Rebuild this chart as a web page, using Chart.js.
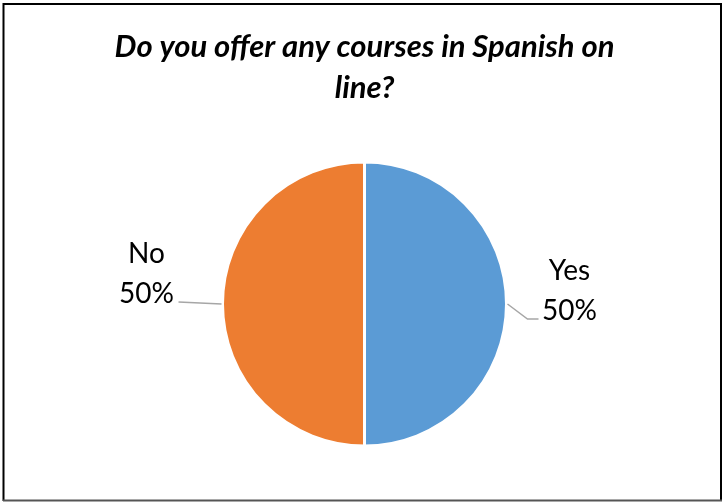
<!DOCTYPE html>
<html>
<head>
<meta charset="utf-8">
<script src="https://cdn.jsdelivr.net/npm/chart.js@4"></script>
<style>
  html, body { margin: 0; padding: 0; background: #fff; }
  #wrap { width: 724px; height: 502px; position: relative; }
</style>
</head>
<body>
<div id="wrap"><canvas id="c" width="724" height="502"></canvas></div>
<script>
const titleLines = ["Do you offer any courses in Spanish on", "line?"];
const categories = ["Yes", "No"];
const values = [50, 50];
const colors = ["#5B9BD5", "#ED7D31"];

const frame = {
  id: 'frame',
  afterDraw(chart) {
    const ctx = chart.ctx;
    ctx.save();
    ctx.strokeStyle = '#000';
    ctx.lineWidth = 2;
    ctx.beginPath();
    ctx.moveTo(3.5, 501);
    ctx.lineTo(3.5, 4);
    ctx.lineTo(721, 4);
    ctx.lineTo(721, 501);
    ctx.stroke();
    ctx.strokeStyle = '#555';
    ctx.beginPath();
    ctx.moveTo(3, 500.5);
    ctx.lineTo(722, 500.5);
    ctx.stroke();
    ctx.restore();
  }
};

const sliceLabels = {
  id: 'sliceLabels',
  afterDatasetsDraw(chart) {
    const ctx = chart.ctx;
    const meta = chart.getDatasetMeta(0);
    const total = values.reduce((a, b) => a + b, 0);
    ctx.save();
    ctx.font = '28px Lato';
    ctx.fillStyle = '#000';
    ctx.textAlign = 'center';
    ctx.textBaseline = 'alphabetic';
    ctx.strokeStyle = '#A6A6A6';
    ctx.lineWidth = 1.5;
    meta.data.forEach((arc, i) => {
      const p = arc.getProps(['x', 'y', 'startAngle', 'endAngle', 'outerRadius'], true);
      const mid = (p.startAngle + p.endAngle) / 2;
      const ax = p.x + (p.outerRadius + 1) * Math.cos(mid);
      const ay = p.y + (p.outerRadius + 1) * Math.sin(mid);
      const pct = Math.round(values[i] / total * 100) + '%';
      ctx.beginPath();
      ctx.moveTo(ax, ay);
      let ex, ey, tx;
      if (Math.cos(mid) >= 0) {
        const bx = ax + 20, by = ay + 15;
        ctx.lineTo(bx, by);
        ex = bx + 11; ey = by;
        ctx.lineTo(ex, ey);
        tx = ex + 31;
      } else {
        ex = ax - 43; ey = ay - 2;
        ctx.lineTo(ex, ey);
        tx = ex - 32;
      }
      ctx.stroke();
      ctx.fillText(categories[i], tx, ey - 39);
      ctx.fillText(pct, tx, ey + 1);
    });
    ctx.restore();
  }
};

new Chart(document.getElementById('c'), {
  type: 'pie',
  data: {
    labels: categories,
    datasets: [{
      data: values,
      backgroundColor: colors,
      borderColor: '#ffffff',
      borderWidth: 3,
      hoverOffset: 0
    }]
  },
  options: {
    responsive: false,
    animation: false,
    layout: { padding: { top: 26, bottom: 54.5, left: 5, right: 0 } },
    plugins: {
      legend: { display: false },
      tooltip: { enabled: false },
      title: {
        display: true,
        text: titleLines,
        color: '#000',
        font: { family: 'Lato', size: 31, weight: 'bold', style: 'italic', lineHeight: 41 / 31 },
        padding: { top: 0, bottom: 52.5 }
      }
    }
  },
  plugins: [frame, sliceLabels]
});
</script>
</body>
</html>
